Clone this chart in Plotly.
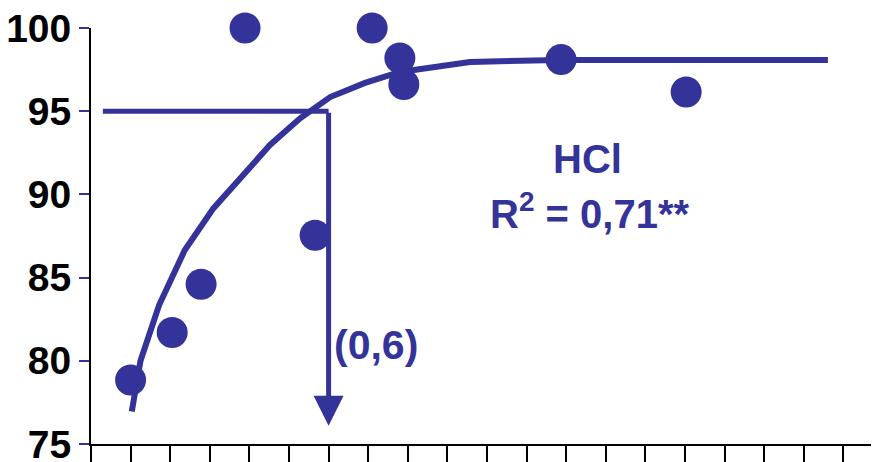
import plotly.graph_objects as go

# Observed points
obs_x = [0.10, 0.205, 0.278, 0.389, 0.566, 0.71, 0.78, 0.79, 1.187, 1.503]
obs_y = [78.85, 81.7, 84.6, 100.0, 87.55, 100.0, 98.2, 96.6, 98.1, 96.15]

# Fitted curve
fit_x = [0.103, 0.125, 0.172, 0.237, 0.309, 0.389, 0.452, 0.528, 0.604, 0.692, 0.78, 0.957, 1.184, 1.861]
fit_y = [76.95, 80.0, 83.35, 86.66, 89.16, 91.27, 92.97, 94.57, 95.85, 96.7, 97.36, 97.96, 98.08, 98.08]

# Threshold (95 % -> dose 0.6)
thr_y = 95
thr_x = 0.6
thr_x_start = 0.03
arrow_end_y = 76.1

y_ticks = [75, 80, 85, 90, 95, 100]

BLUE = "#333399"
FONT = "Liberation Sans, Arial, sans-serif"

fig = go.Figure()

fig.add_trace(go.Scatter(x=fit_x, y=fit_y, mode="lines",
                         line=dict(color=BLUE, width=6), cliponaxis=False,
                         hoverinfo="skip"))
fig.add_trace(go.Scatter(x=[thr_x_start, thr_x], y=[thr_y, thr_y], mode="lines",
                         line=dict(color=BLUE, width=5), cliponaxis=False,
                         hoverinfo="skip"))
fig.add_trace(go.Scatter(x=obs_x, y=obs_y, mode="markers",
                         marker=dict(color=BLUE, size=31, line=dict(width=0)),
                         cliponaxis=False))

# Vertical arrow
fig.add_annotation(x=thr_x, y=arrow_end_y, ax=thr_x, ay=thr_y,
                   xref="x", yref="y", axref="x", ayref="y",
                   text="", showarrow=True, arrowhead=2, arrowsize=1.2,
                   arrowwidth=5, arrowcolor=BLUE, standoff=0)

fig.add_annotation(x=thr_x, y=80.95, xref="x", yref="y", text="<b>(0,6)</b>",
                   showarrow=False, xanchor="left", xshift=3,
                   font=dict(family=FONT, size=41, color=BLUE))

fig.add_annotation(x=1.255, y=92.13, xref="x", yref="y", text="<b>HCl</b>",
                   showarrow=False, font=dict(family=FONT, size=40, color=BLUE))
fig.add_annotation(x=1.26, y=89.0, xref="x", yref="y",
                   text="<b>R<sup>2</sup> = 0,71**</b>",
                   showarrow=False, font=dict(family=FONT, size=40, color=BLUE))

# The page body adds an 8 px offset, so margins are compensated
fig.update_layout(
    width=879, height=462,
    margin=dict(l=83, r=8, t=20, b=26),
    paper_bgcolor="white", plot_bgcolor="white",
    showlegend=False,
    font=dict(family=FONT),
)

fig.update_xaxes(range=[0, 1.99], dtick=0.1, tick0=0, showgrid=False, zeroline=False,
                 showline=True, linecolor="black", linewidth=2, automargin=False,
                 ticks="outside", ticklen=22, tickwidth=2, tickcolor="black",
                 showticklabels=False)
fig.update_yaxes(range=[75, 100], tickvals=y_ticks, showgrid=False, zeroline=False,
                 showline=True, linecolor="black", linewidth=2, automargin=False,
                 ticks="outside", ticklen=10, tickwidth=2, tickcolor=BLUE,
                 ticklabeloverflow="allow", ticklabelstandoff=0,
                 tickfont=dict(family=FONT, size=39, color="black", weight="bold"))

fig.write_html("out.html")
